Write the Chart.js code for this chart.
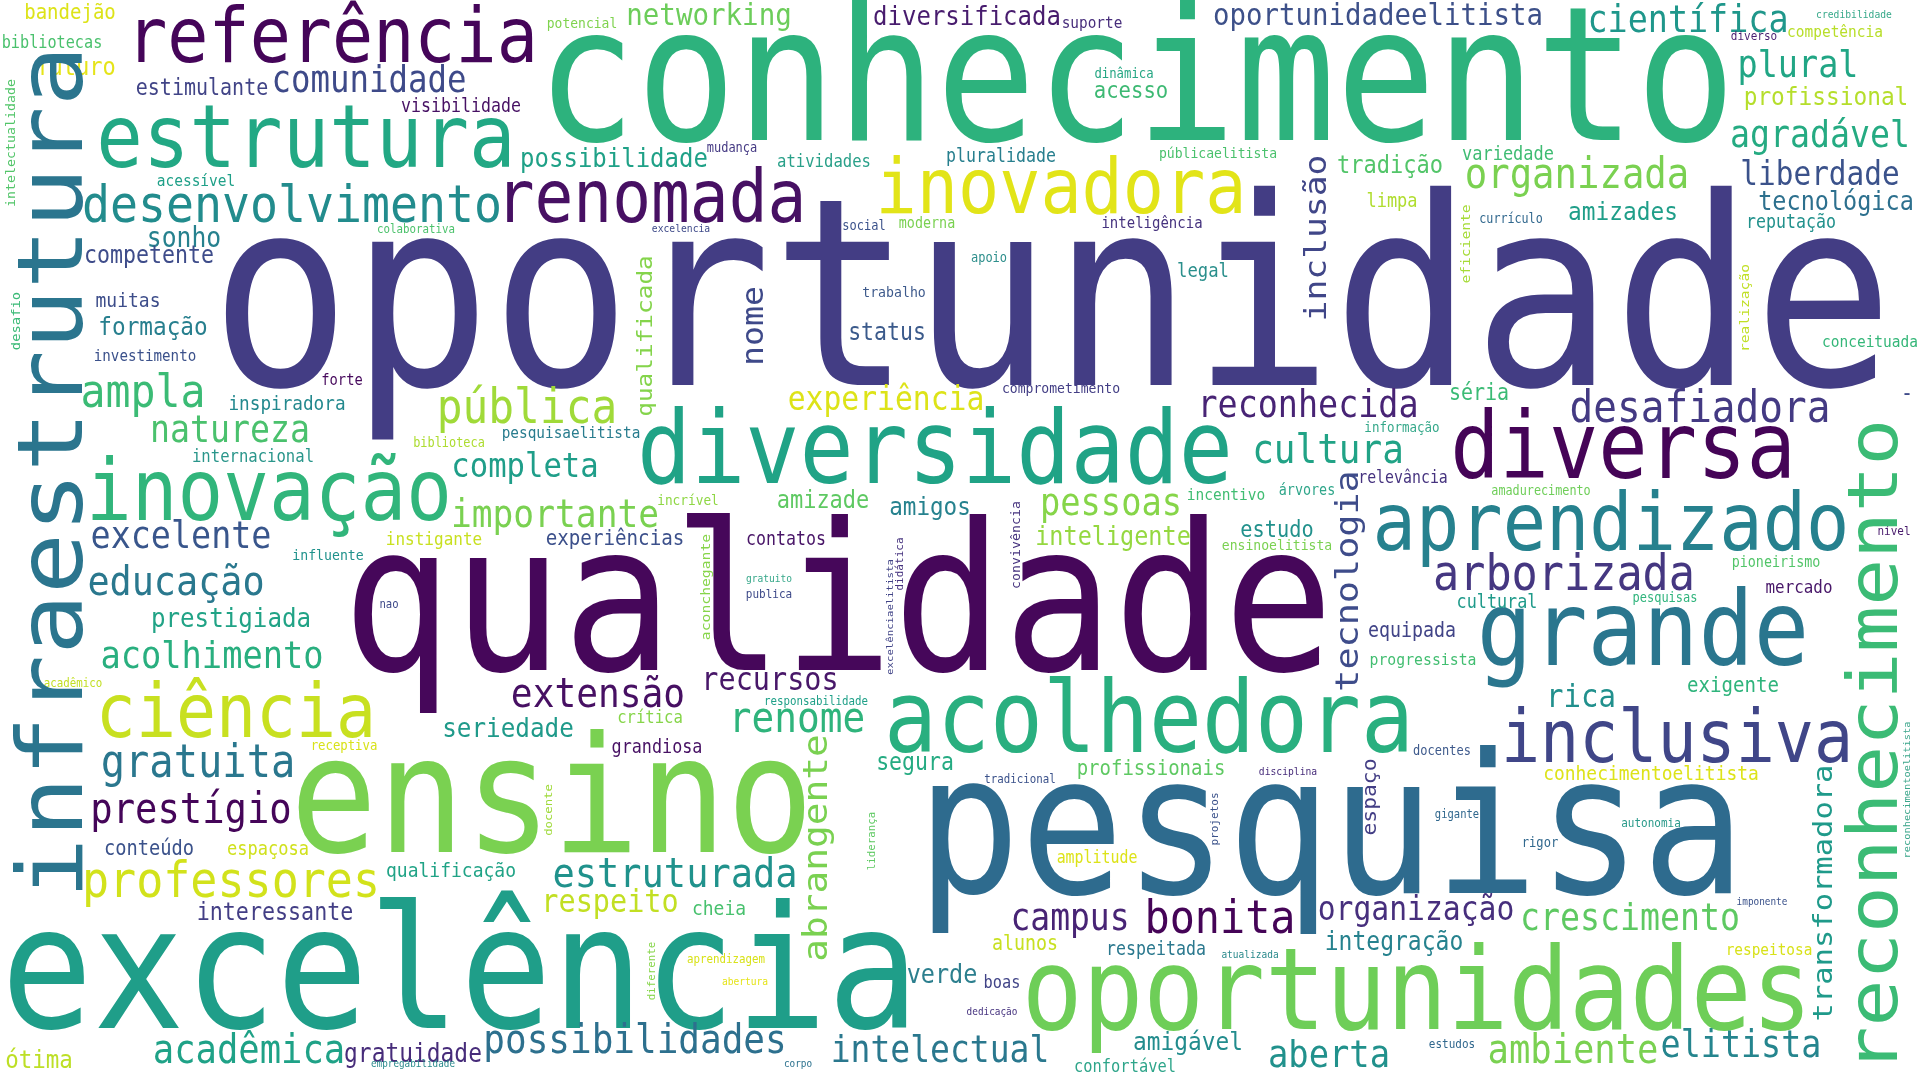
<!DOCTYPE html>
<html><head><meta charset="utf-8">
<script src="https://cdn.jsdelivr.net/npm/chart.js@4.4.1/dist/chart.umd.min.js"></script>
<style>html,body{margin:0;padding:0;background:#fff;overflow:hidden}canvas{display:block}</style>
</head><body>
<canvas id="c" width="1920" height="1080"></canvas>
<script>
const words = [
"oportunidade","conhecimento","qualidade","pesquisa","excelência","ensino","oportunidades","diversidade","acolhedora","diversa",
"grande","aprendizado","inovação","inovadora","referência","renomada","estrutura","ciência","inclusiva","desenvolvimento",
"professores","arborizada","desafiadora","pública","ampla","bonita","gratuita","renome","organizada","prestígio",
"estruturada","educação","extensão","cultura","possibilidades","acadêmica","ambiente","importante","aberta","acolhimento",
"pessoas","científica","plural","reconhecida","excelente","elitista","agradável","natureza","crescimento","campus",
"intelectual","comunidade","completa","organização","experiência","liberdade","rica","recursos","respeito","networking",
"oportunidadeelitista","seriedade","prestigiada","diversificada","possibilidade","sonho","tecnológica","inteligente","verde","gratuidade",
"integração","amizades","profissional","amigável","formação","amigos","ótima","futuro","tradição","amizade",
"interessante","competente","segura","status","acesso","estudo","estimulante","séria","experiências","exigente",
"bandejão","profissionais","conteúdo","equipada","alunos","muitas","qualificação","cheia","conhecimentoelitista","inspiradora",
"limpa","variedade","espaçosa","legal","grandiosa","cultural","visibilidade","pluralidade","reputação","contatos",
"respeitada","instigante","mercado","atividades","internacional","crítica","confortável","boas","bibliotecas","relevância",
"amplitude","progressista","acessível","competência","conceituada","incentivo","suporte","pesquisaelitista","respeitosa","investimento",
"inteligência","forte","árvores","moderna","pioneirismo","trabalho","influente","comprometimento","públicaelitista","ensinoelitista",
"potencial","incrível","informação","dinâmica","receptiva","rigor","social","mudança","apoio","pesquisas",
"docentes","biblioteca","amadurecimento","currículo","cursos","diverso","publica","nível","autonomia","estudos",
"colaborativa","acadêmico","responsabilidade","tradicional","aprendizagem","nao","gigante","excelencia","credibilidade","disciplina",
"gratuito","abertura","atualizada","dedicação","corpo","imponente","empregabilidade","-",
"infraestrutura","reconhecimento","intelectualidade","desafio","qualificada","nome","inclusão","eficiente","realização","aconchegante",
"excelênciaelitista","didática","tecnologia","convivência","abrangente","docente","liderança","diferente","espaço","projetos",
"transformadora","reconhecimentoelitista"
];

const verticalWords = [
"infraestrutura","reconhecimento","intelectualidade","desafio","qualificada","nome","inclusão","eficiente","realização","aconchegante",
"excelênciaelitista","didática","tecnologia","convivência","abrangente","docente","liderança","diferente","espaço","projetos",
"transformadora","reconhecimentoelitista"
];

const weights = [
233,166,183,172,152.5,145,101,90,88,82,
92,72,76,68.5,68.4,64.5,77.4,66.5,65,46.5,
45,43.5,39.4,42.8,41.5,41.8,40.4,37.8,37.3,37.2,
37,36.8,36.2,36,36,35.5,35.5,34.6,33.8,33.7,
33.7,33.4,33.5,33.4,33.4,33.4,33.2,33.2,33.2,33,
33,32.4,30.6,29.7,29.7,29.4,29,28.5,28.5,27.5,
27.4,24.3,24.2,24,24,24.7,23.5,23.5,23.5,22.9,
23,22.8,22.8,22.8,22.7,22.6,22.5,22,22,22,
21.7,21.6,21.5,21.5,20.6,20.3,20,20,19.2,19.1,
19,19,18.7,18.3,18.3,18,18,18,17.9,17.7,
17,17,17,17.3,16.8,16.8,16.6,16.6,16.6,16.6,
16.6,16,15.9,15.6,15.6,15.6,15.4,15.3,15.2,14.9,
14.9,14.8,14.5,14.5,14.5,14.5,14.4,14.4,14.4,14.2,
14,13.8,13.4,13.4,13.4,13.2,13.2,13.1,13.1,13.1,
13,12.8,12.5,12.3,12.3,12.1,12,12,12,12,
12,11.9,11.8,11.7,11.1,11,11,11,11,11,
10.8,10.8,10.8,10.8,10.8,10.6,10.5,9.7,9.7,9.7,
9.6,9.6,9.5,9.4,9.4,9.4,9.3,20,
90,69,11.8,12.3,21.7,29.5,30.8,13,13,13.1,
9.5,9.8,32.7,11.8,33.6,10.9,9.6,9.6,19,9.8,
27.1,9.2
];

const xPos = [
1052,1136,838,1331,460,552,1417,935,1149,1623,
1643,1611,269,1061,332,651,306,236,1677,292,
231,1564,1700,527,143,1220,198,797,1577,191,
675,176,598,1328,635,249,1573,555,1329,212,
1111,1688,1798,1308,181,1741,1820,230,1630,1070,
940,369,525,1416,886,1820,1581,770,610,709,
1378,508,231,967,614,184,1836,1113,942,413,
1394,1623,1826,1188,153,930,39,76,1390,823,
275,149,915,887,1131,1277,202,1479,615,1733,
70,1151,149,1412,1025,128,451,719,1651,287,
1392,1508,268,1203,657,1497,461,1001,1791,786,
1156,434,1799,824,253,650,1125,1002,52,1403,
1097,1423,196,1835,1870,1226,1092,571,1769,145,
1152,342,1307,927,1776,894,328,1061,1218,1277,
582,688,1402,1124,344,1540,864,732,989,1665,
1442,449,1541,1511,62,1754,769,1894,1651,1452,
416,73,816,1020,726,389,1457,681,1854,1288,
769,745,1250,992,798,1762,413,1907,
82,1897,15,20,652,763,1326,1470,1749,710,
893,903,1358,1020,827,552,875,655,1376,1218,
1832,1910
];

const yPos = [
385,140,670,893,1028,852,1029,483,752,478,
665,550,520,213,62,222,167,737,762,222,
897,590,422,423,407,933,777,732,188,823,
887,595,707,463,1053,1063,1063,527,1067,668,
515,32,77,417,548,1057,147,442,930,930,
1062,92,477,920,410,185,707,690,912,25,
25,737,627,25,167,247,210,545,983,1062,
950,220,105,1050,335,515,1068,75,173,508,
920,263,770,340,98,537,95,400,545,692,
18.5,775,855,637,950,307,877,915,780,410,
207,160,855,277,753,608,112,162,228,545,
955,545,593,167,462,723,1072,988,48,483,
863,665,186,37,347,500,28,438,955,361,
228,385,495,228,567,297,560,393,158,550,
28,505,432,78,750,847,230,152,262,602,
755,447,495,223,305,40,598,535,827,1048,
233,687,705,783,963,608,818,232,18,775,
582,985,958,1015,1067,905,1067,400,
472,746,143,321,336,326,238,244,308,587,
617,564,581,545,848,810,841,971,797,819,
893,790
];

const colors = [
"#433d84","#2db27d","#46075a","#2e6b8e","#1f9e89","#7ad151","#6ece58","#20a386","#29af7f","#450457",
"#2a768e","#26818e","#31b57b","#e2e418","#450559","#471063","#22a884","#c8e020","#404688","#228c8d",
"#d2e21b","#453781","#443a83","#a0da39","#3bbb75","#450457","#2a778e","#2fb47c","#7ad151","#450559",
"#20928c","#2a788e","#471063","#21a386","#2d708e","#1fa287","#7ad151","#7ad151","#21918c","#29af7f",
"#86d549","#1f978b","#21a685","#482475","#39568c","#25858e","#25ab82","#4ac16d","#5ec962","#482475",
"#2a788e","#3e4a89","#1f9e89","#472f7d","#dde318","#3b528b","#21908d","#481769","#c2df23","#6ccd5a",
"#3d5089","#1f9a8a","#21a386","#481c6e","#1fa187","#26818e","#2d708e","#95d840","#2c7f8e","#472c7a",
"#26828e","#1f9e89","#b5de2b","#228c8d","#277f8e","#26828e","#bddf26","#e5e419","#52c569","#5ec962",
"#433e85","#3e4c8a","#25ab82","#3b5a8b","#3db973","#21918c","#414487","#3bbb75","#3c508b","#2fb47c",
"#dde318","#5ec962","#3b528b","#414487","#c8e020","#3d4d8a","#20a386","#48c16e","#dde318","#23898e",
"#b0dd2f","#3fbc73","#d0e11c","#2a8f8c","#471164","#1f9a8a","#471164","#277f8e","#21918c","#481467",
"#2a788e","#c8e020","#481769","#29a089","#2a968b","#86d549","#2ea58a","#414487","#4ac16d","#46337f",
"#dde318","#42be71","#1fa088","#b8de29","#35b779","#40bd72","#472d7b","#287c8e","#d8e219","#3b518b",
"#46337f","#46085c","#2fa68a","#7ad151","#52c569","#3e5a8c","#20928c","#433e85","#4ac16d","#7ad151",
"#7fd34e","#8fd744","#35a88a","#26a784","#d8e219","#31688e","#3b528b","#443983","#2e8f8c","#2fb47c",
"#3e5a8c","#addc30","#6ece58","#31688e","#bddf26","#481f70","#3e4a89","#481a6c","#2a9a8a","#31688e",
"#4cc26c","#c2df23","#1fa088","#3b528b","#d8e219","#3e4989","#31688e","#3e4a89","#37a98a","#472c7a",
"#37a88a","#e5e419","#2a8a8c","#46337f","#2c728e","#3b528b","#2a8a8c","#3e4a89",
"#2b758e","#3bbb75","#52c569","#3aba76","#84d44b","#3e4989","#404688","#a5db36","#c0df25","#86d549",
"#414487","#46337f","#3e4c8a","#46337f","#7ad151","#9fda3a","#5ec962","#86d549","#433e85","#3b528b",
"#1f9a8a","#3aa58a"
];

const FONT = '"DejaVu Sans Mono", "Liberation Mono", monospace';
const STRETCH_Y = 1.125;

const points = words.map((w, i) => ({ x: xPos[i], y: yPos[i] }));

const wordPlugin = {
  id: 'wordLabels',
  afterDatasetsDraw(chart) {
    const ctx = chart.ctx;
    const meta = chart.getDatasetMeta(0);
    const sx = chart.scales.x;
    const unit = (sx.getPixelForValue(1920) - sx.getPixelForValue(0)) / 1920;
    ctx.save();
    ctx.textAlign = 'center';
    ctx.textBaseline = 'alphabetic';
    meta.data.forEach((pt, i) => {
      const w = words[i];
      const vertical = verticalWords.includes(w);
      ctx.save();
      ctx.translate(pt.x, pt.y);
      ctx.scale(1, STRETCH_Y);
      if (vertical) ctx.rotate(-Math.PI / 2);
      ctx.font = (weights[i] * unit) + 'px ' + FONT;
      ctx.fillStyle = colors[i];
      ctx.fillText(w, 0, 0);
      ctx.restore();
    });
    ctx.restore();
  }
};

new Chart(document.getElementById('c'), {
  type: 'scatter',
  data: { datasets: [{ data: points, pointRadius: 0, pointHoverRadius: 0 }] },
  options: {
    responsive: false,
    animation: false,
    devicePixelRatio: 1,
    layout: { padding: 0 },
    events: [],
    plugins: { legend: { display: false }, tooltip: { enabled: false } },
    scales: {
      x: { type: 'linear', min: 0, max: 1920, display: false },
      y: { type: 'linear', min: 0, max: 1080, reverse: true, display: false }
    }
  },
  plugins: [wordPlugin]
});
</script>
</body></html>
